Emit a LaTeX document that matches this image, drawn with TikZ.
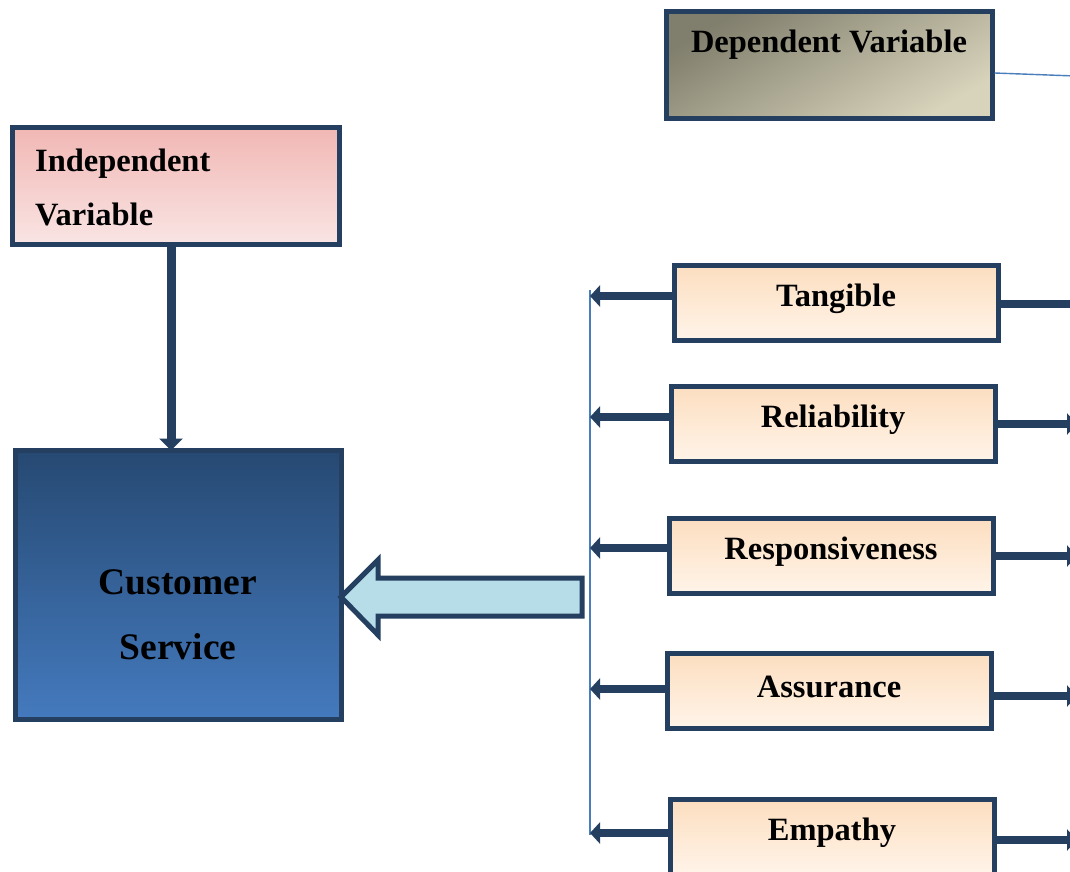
\documentclass[tikz,border=0pt]{standalone}
\usepackage{fontspec}
\setmainfont{Liberation Serif}
\usetikzlibrary{arrows.meta,calc}
\definecolor{frame}{RGB}{36,63,96}
\definecolor{peachtop}{RGB}{252,222,192}
\definecolor{peachbot}{RGB}{255,244,233}
\definecolor{pinktop}{RGB}{241,183,180}
\definecolor{pinkbot}{RGB}{249,229,228}
\definecolor{csTop}{RGB}{38,73,114}
\definecolor{csBot}{RGB}{68,122,190}
\definecolor{depdark}{RGB}{128,126,108}
\definecolor{deplight}{RGB}{216,211,187}
\definecolor{blockfill}{RGB}{183,221,232}
\definecolor{linkblue}{RGB}{74,126,187}
\begin{document}
\begin{tikzpicture}[x=1pt,y=-1pt,
  box/.style={draw=frame,line width=5pt,rectangle,outer sep=0pt,inner sep=0pt},
  factor/.style={box,top color=peachtop,bottom color=peachbot,minimum width=324pt,minimum height=75pt},
  lbl/.style={font=\fontsize{32.5}{32.5}\selectfont\bfseries,inner sep=0pt},
  bigarrow/.style={draw=frame,line width=8pt,-{Triangle[length=10pt,width=21pt]}},
  thinlink/.style={draw=linkblue,line width=1.4pt}]
\clip (0,0) rectangle (1070,872);
\fill[white] (0,0) rectangle (1070,872);

% heading boxes
\node[box,minimum width=326pt,minimum height=107pt,top color=depdark,bottom color=deplight,shading angle=30] (dep) at (829.5,65) {};
\node[lbl] (deptext) at (829,45) {Dependent Variable};
\node[box,minimum width=327pt,minimum height=117pt,top color=pinktop,bottom color=pinkbot] (ind) at (176,186) {};
\node[lbl,anchor=west,align=left,font=\fontsize{32.5}{54}\selectfont\bfseries] (indtext) at (35,187) {Independent\\Variable};

% customer service
\node[box,minimum width=326pt,minimum height=269pt,top color=csTop,bottom color=csBot] (cs) at (178.5,585) {};
\node[lbl,align=center,font=\fontsize{37.5}{65}\selectfont\bfseries] (cstext) at (178,615) {Customer\\Service};

% service quality factors
\node[factor] (tan) at (836,303) {};
\node[lbl] (tantext) at (836,298.5) {Tangible};
\node[factor] (rel) at (833.5,424) {};
\node[lbl] (reltext) at (833,419.5) {Reliability};
\node[factor] (res) at (831.5,556) {};
\node[lbl] (restext) at (831,551.5) {Responsiveness};
\node[factor] (ass) at (829.5,691) {};
\node[lbl] (asstext) at (829,686.5) {Assurance};
\node[factor] (emp) at (832.5,837) {};
\node[lbl] (emptext) at (832,832.5) {Empathy};

% collector line and links
\coordinate (busTop) at (590,290);
\coordinate (busBot) at (590,835);
\draw[thinlink] (busTop) -- (busBot);
\coordinate (depOut) at (1075,76);
\draw[thinlink] (dep.east) ++(2pt,-8pt) coordinate (depIn) -- (depOut);

% independent -> customer service
\draw[draw=frame,line width=9pt,-{Triangle[length=12pt,width=23pt]}] (ind.south -| 171,0) -- (cs.north -| 171,0);

% arrows from the factors to the collector line
\foreach \b/\yy in {tan/296,rel/417,res/548,ass/689,emp/833}{
  \draw[bigarrow] (\b.west |- 0,\yy) -- (590,\yy);
}
% arrows leaving on the right
\foreach \b/\yy/\xe in {tan/304/1090,rel/424/1077,res/556/1077,ass/696/1077,emp/840/1077}{
  \draw[bigarrow] (\b.east |- 0,\yy) -- (\xe,\yy);
}

% block arrow into customer service
\draw[draw=frame,line width=5pt,fill=blockfill,line join=miter]
  (341,597) -- (378,560) -- (378,578) -- (582,578) -- (582,616) -- (378,616) -- (378,635) -- cycle;
\end{tikzpicture}
\end{document}
